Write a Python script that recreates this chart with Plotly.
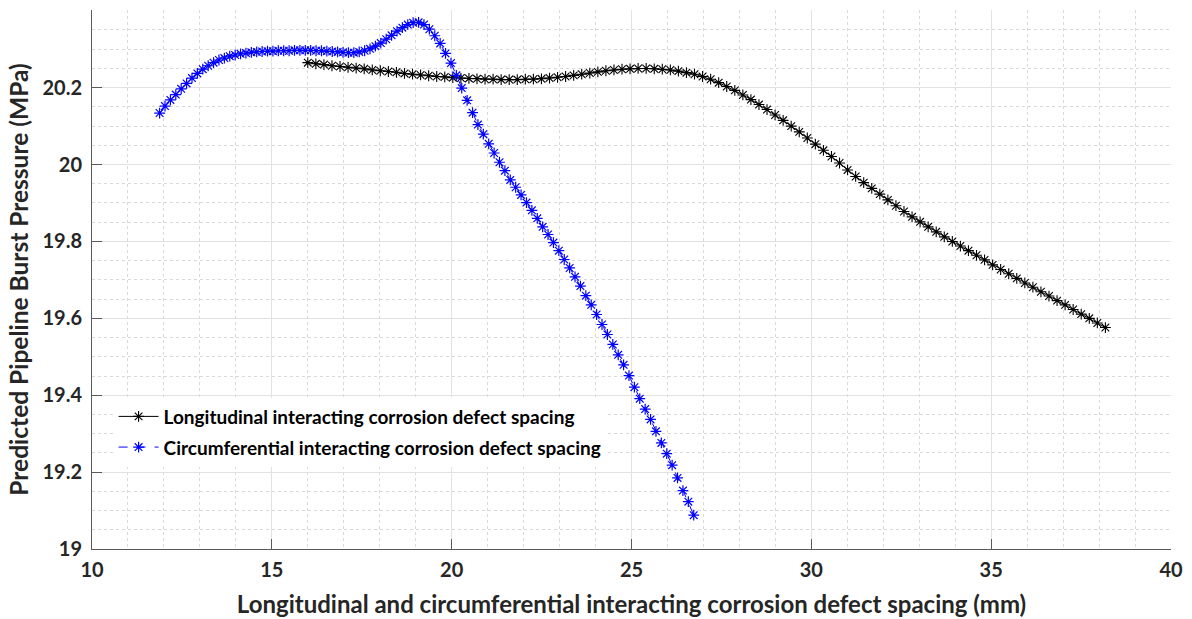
import plotly.graph_objects as go

# Longitudinal spacing series (mm, MPa)
long_x = [16.000, 16.224, 16.448, 16.672, 16.896, 17.120, 17.344, 17.568, 17.792, 18.016,
          18.240, 18.464, 18.688, 18.912, 19.136, 19.360, 19.584, 19.808, 20.032, 20.256,
          20.480, 20.704, 20.928, 21.152, 21.376, 21.600, 21.824, 22.048, 22.272, 22.496,
          22.720, 22.944, 23.168, 23.392, 23.616, 23.840, 24.064, 24.288, 24.512, 24.736,
          24.960, 25.184, 25.408, 25.632, 25.856, 26.080, 26.304, 26.528, 26.752, 26.976,
          27.200, 27.424, 27.648, 27.872, 28.096, 28.320, 28.544, 28.768, 28.992, 29.216,
          29.440, 29.664, 29.888, 30.112, 30.336, 30.560, 30.784, 31.008, 31.232, 31.456,
          31.680, 31.904, 32.128, 32.352, 32.576, 32.800, 33.024, 33.248, 33.472, 33.696,
          33.920, 34.144, 34.368, 34.592, 34.816, 35.040, 35.264, 35.488, 35.712, 35.936,
          36.160, 36.384, 36.608, 36.832, 37.056, 37.280, 37.504, 37.728, 37.952, 38.176]
long_p = [20.265, 20.262, 20.260, 20.257, 20.255, 20.253, 20.251, 20.249, 20.246, 20.244,
          20.242, 20.240, 20.237, 20.235, 20.233, 20.231, 20.229, 20.228, 20.226, 20.225,
          20.224, 20.223, 20.222, 20.222, 20.221, 20.221, 20.221, 20.222, 20.222, 20.223,
          20.225, 20.227, 20.229, 20.232, 20.235, 20.238, 20.241, 20.244, 20.246, 20.248,
          20.249, 20.250, 20.250, 20.249, 20.248, 20.246, 20.243, 20.239, 20.235, 20.229,
          20.222, 20.213, 20.203, 20.193, 20.181, 20.169, 20.156, 20.143, 20.129, 20.115,
          20.100, 20.085, 20.069, 20.053, 20.037, 20.021, 20.004, 19.986, 19.969, 19.953,
          19.938, 19.923, 19.908, 19.893, 19.878, 19.864, 19.851, 19.838, 19.825, 19.812,
          19.800, 19.788, 19.776, 19.764, 19.752, 19.739, 19.727, 19.716, 19.704, 19.692,
          19.681, 19.669, 19.658, 19.646, 19.635, 19.623, 19.611, 19.600, 19.588, 19.576]

# Circumferential spacing series (mm, MPa)
circ_x = [11.88, 12.03, 12.18, 12.33, 12.48, 12.63, 12.78, 12.93, 13.08, 13.23,
          13.38, 13.53, 13.68, 13.83, 13.98, 14.13, 14.28, 14.43, 14.58, 14.73,
          14.88, 15.03, 15.18, 15.33, 15.48, 15.63, 15.78, 15.93, 16.08, 16.23,
          16.38, 16.53, 16.68, 16.83, 16.98, 17.13, 17.28, 17.43, 17.58, 17.73,
          17.88, 18.03, 18.18, 18.33, 18.48, 18.63, 18.78, 18.93, 19.08, 19.23,
          19.38, 19.53, 19.68, 19.83, 19.98, 20.13, 20.28, 20.43, 20.58, 20.73,
          20.88, 21.03, 21.18, 21.33, 21.48, 21.63, 21.78, 21.93, 22.08, 22.23,
          22.38, 22.53, 22.68, 22.83, 22.98, 23.13, 23.28, 23.43, 23.58, 23.73,
          23.88, 24.03, 24.18, 24.33, 24.48, 24.63, 24.78, 24.93, 25.08, 25.23,
          25.38, 25.53, 25.68, 25.83, 25.98, 26.13, 26.28, 26.43, 26.58, 26.73]
circ_p = [20.134, 20.152, 20.168, 20.182, 20.197, 20.211, 20.225, 20.237, 20.248, 20.257,
          20.265, 20.272, 20.277, 20.282, 20.285, 20.288, 20.290, 20.292, 20.293, 20.294,
          20.295, 20.295, 20.296, 20.296, 20.296, 20.297, 20.297, 20.297, 20.297, 20.296,
          20.296, 20.295, 20.294, 20.293, 20.292, 20.291, 20.291, 20.293, 20.296, 20.301,
          20.308, 20.316, 20.326, 20.336, 20.347, 20.356, 20.364, 20.369, 20.370, 20.364,
          20.352, 20.335, 20.315, 20.289, 20.264, 20.232, 20.199, 20.167, 20.135, 20.104,
          20.079, 20.054, 20.030, 20.006, 19.984, 19.960, 19.941, 19.921, 19.901, 19.881,
          19.860, 19.838, 19.818, 19.797, 19.776, 19.753, 19.731, 19.708, 19.684, 19.659,
          19.635, 19.610, 19.584, 19.558, 19.532, 19.505, 19.479, 19.451, 19.421, 19.391,
          19.364, 19.337, 19.306, 19.276, 19.248, 19.218, 19.185, 19.152, 19.123, 19.088]

x_ticks = [10, 15, 20, 25, 30, 35, 40]
y_ticks = [19, 19.2, 19.4, 19.6, 19.8, 20, 20.2]
y_labels = ["19", "19.2", "19.4", "19.6", "19.8", "20", "20.2"]

FONT = "Lato"
TXT = "#262626"
AXC = "#5a5a5a"

fig = go.Figure()
fig.add_trace(go.Scatter(
    x=long_x, y=long_p, mode="lines+markers",
    name="Longitudinal interacting corrosion defect spacing",
    legendgroup="long",
    line=dict(color="black", width=1),
    marker=dict(symbol="asterisk-open", size=9, color="black",
                line=dict(color="black", width=1.1)),
))
fig.add_trace(go.Scatter(
    x=circ_x, y=circ_p, mode="lines+markers",
    name="Circumferential interacting corrosion defect spacing",
    legendgroup="circ",
    line=dict(color="blue", width=1, dash="dash"),
    marker=dict(symbol="asterisk-open", size=9, color="blue",
                line=dict(color="blue", width=1.2)),
))

fig.update_layout(
    width=1192, height=619,
    margin=dict(l=92, r=21, t=10, b=70),
    plot_bgcolor="white", paper_bgcolor="white",
    font=dict(family=FONT, color=TXT),
    showlegend=True,
    legend=dict(
        x=0.02, y=0.281, xanchor="left", yanchor="top",
        bgcolor="white", borderwidth=0,
        font=dict(family=FONT, size=19, color="black", weight="bold"),
        tracegroupgap=3, itemwidth=40,
    ),
    xaxis=dict(
        range=[10, 40], tickvals=x_ticks, automargin=False,
        showline=True, linecolor=AXC, linewidth=1,
        ticks="inside", ticklen=10, tickcolor=AXC,
        showgrid=True, gridcolor="#e2e2e2", gridwidth=1,
        zeroline=False,
        minor=dict(dtick=1, tick0=10, showgrid=True, gridcolor="#d9d9d9",
                   griddash="dot", ticks=""),
        tickfont=dict(family=FONT, size=20, color=TXT, weight="bold"),
        ticklabelstandoff=3,
        title=dict(text="Longitudinal and circumferential interacting corrosion defect spacing (mm)",
                   font=dict(family=FONT, size=24, color=TXT, weight="bold"), standoff=16),
    ),
    yaxis=dict(
        range=[19, 20.402], tickvals=y_ticks, ticktext=y_labels, automargin=False,
        showline=True, linecolor=AXC, linewidth=1,
        ticks="inside", ticklen=10, tickcolor=AXC,
        showgrid=True, gridcolor="#e2e2e2", gridwidth=1,
        zeroline=False,
        minor=dict(dtick=0.05, tick0=19, showgrid=True, gridcolor="#d9d9d9",
                   griddash="dot", ticks=""),
        tickfont=dict(family=FONT, size=20, color=TXT, weight="bold"),
        ticklabelstandoff=5,
        title=dict(text="Predicted Pipeline Burst Pressure (MPa)",
                   font=dict(family=FONT, size=24.5, color=TXT, weight="bold"), standoff=6),
    ),
)

fig.write_html("out.html")
